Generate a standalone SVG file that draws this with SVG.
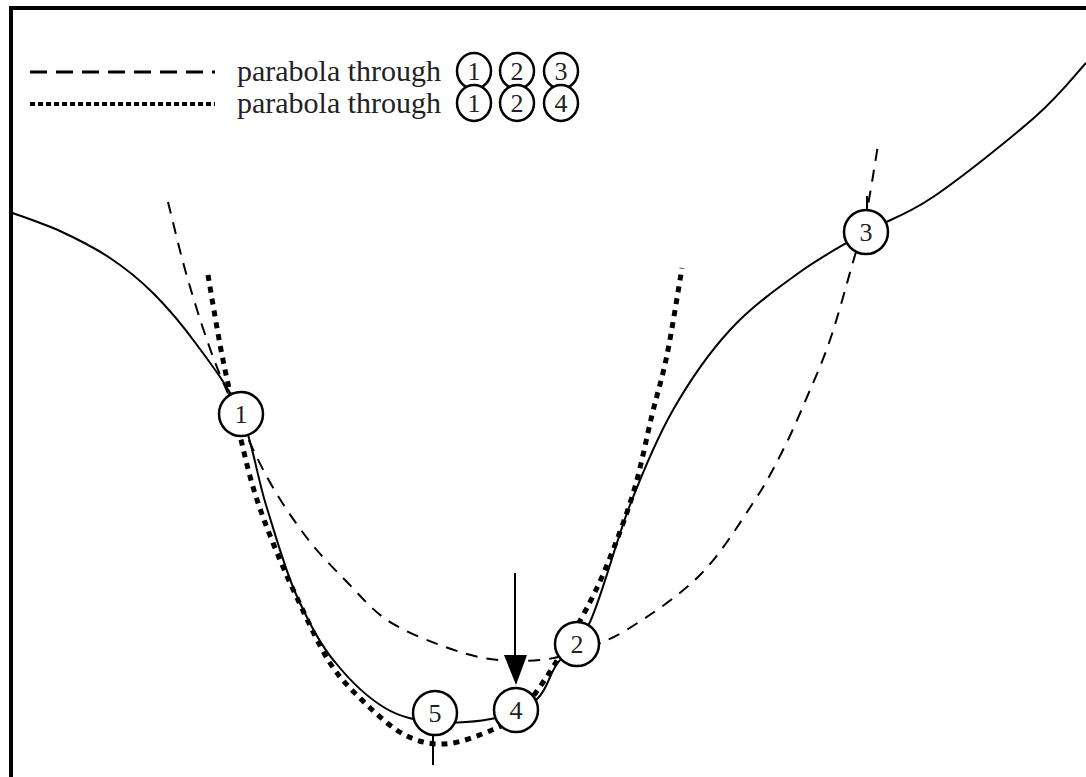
<svg xmlns="http://www.w3.org/2000/svg" width="1086" height="777" viewBox="0 0 1086 777">
<style>
.fn{fill:none;stroke:#000;stroke-width:2}
.dash{fill:none;stroke:#000;stroke-width:2;stroke-dasharray:12 9}
.dot{fill:none;stroke:#000;stroke-width:5;stroke-dasharray:6 6}
.pt{fill:#fff;stroke:#000;stroke-width:2.5}
.num{font-family:"Liberation Serif","Times New Roman",serif;font-size:26px;fill:#222;text-anchor:middle}
.lg{font-family:"Liberation Serif","Times New Roman",serif;font-size:30px;fill:#222}
.tick{stroke:#000;stroke-width:2}
</style>
<rect width="1086" height="777" fill="#fff"/>
<g id="frame">
<line x1="11" y1="8" x2="1086" y2="8" stroke="#000" stroke-width="4"/>
<line x1="11" y1="6" x2="11" y2="777" stroke="#000" stroke-width="4"/>
</g>
<g id="legend">
<line x1="30" y1="72" x2="215" y2="72" stroke="#000" stroke-width="3" stroke-dasharray="17 9"/>
<text class="lg" x="237" y="81">parabola through</text>
<ellipse class="pt" cx="474" cy="71" rx="17" ry="18"/><text class="num" x="474" y="80">1</text>
<ellipse class="pt" cx="517" cy="71" rx="17" ry="18"/><text class="num" x="517" y="80">2</text>
<ellipse class="pt" cx="561" cy="71" rx="17" ry="18"/><text class="num" x="561" y="80">3</text>
<line x1="30" y1="104" x2="215" y2="104" stroke="#000" stroke-width="4" stroke-dasharray="5 3"/>
<text class="lg" x="237" y="113">parabola through</text>
<ellipse class="pt" cx="474" cy="103" rx="17" ry="18"/><text class="num" x="474" y="112">1</text>
<ellipse class="pt" cx="517" cy="103" rx="17" ry="18"/><text class="num" x="517" y="112">2</text>
<ellipse class="pt" cx="561" cy="103" rx="17" ry="18"/><text class="num" x="561" y="112">4</text>
</g>
<g id="connectors">
<path id="function" class="fn" d="M10,212 C18.3,215.2 43.3,223.3 60,231 C76.7,238.7 94.5,247.7 110,258 C125.5,268.3 138.5,278.5 153,293 C167.5,307.5 182.3,324.8 197,345 C211.7,365.2 228.8,386.5 241,414 C252,440 257,476 266,505 C276,537 284,566 295,592 C307,619 320,645 335,662 C351,682 369.2,698.5 385,708 C400.8,717.5 416.5,720.3 435,722 C453.5,723.7 479,721.8 496,718 C513,714.2 526.8,708 537,699 C547.2,690 548.2,676.8 557,664 C565.8,651.2 577.8,648.5 590,622 C602.2,595.5 616.2,540.3 630,505 C643.8,469.7 656.3,439.2 673,410 C689.7,380.8 708.8,353 730,330 C751.2,307 777.3,288.3 800,272 C822.7,255.7 843.8,244.5 866,232 C888.2,219.5 904.8,216.2 933,197 C961.2,177.8 1009.5,139.3 1035,117 C1060.5,94.7 1077.5,72 1086,63"/>
<path id="parabola123" class="dash" d="M168,202 C171,213.8 179.3,249.5 186,273 C192.7,296.5 200.7,322.2 208,343 C215.3,363.8 220.2,375.7 230,398 C239.8,420.3 254.2,453.7 267,477 C279.8,500.3 293.7,520.5 307,538 C320.3,555.5 333.7,568.3 347,582 C360.3,595.7 371.5,609.5 387,620 C402.5,630.5 422.8,638.5 440,645 C457.2,651.5 473.3,656.5 490,659 C506.7,661.5 525.5,661.3 540,660 C554.5,658.7 562.3,656.2 577,651 C591.7,645.8 607.5,641.7 628,629 C648.5,616.3 679.2,596 700,575 C720.8,554 739.2,523.8 753,503 C766.8,482.2 774,467.7 783,450 C792,432.3 799.2,415.3 807,397 C814.8,378.7 822.3,362.5 830,340 C837.7,317.5 847,282.8 853,262 C859,241.2 861.8,234.5 866,215 C870.2,195.5 876,156.7 878,145"/>
<path id="parabola124" class="dot" d="M208,275 C210.3,288.3 217.3,331.2 222,355 C226.7,378.8 230.8,396 236,418 C241.2,440 246.8,466.2 253,487 C259.2,507.8 265.5,524.2 273,543 C280.5,561.8 288.5,580 298,600 C307.5,620 318.8,645.8 330,663 C341.2,680.2 352.5,691 365,703 C377.5,715 391.7,728.2 405,735 C418.3,741.8 430.5,744.8 445,744 C459.5,743.2 479.5,735.3 492,730 C504.5,724.7 509.8,722.5 520,712 C530.2,701.5 541.3,685.3 553,667 C564.7,648.7 580,621.5 590,602 C600,582.5 605.5,569.2 613,550 C620.5,530.8 628.5,509.5 635,487 C641.5,464.5 646.7,437 652,415 C657.3,393 662,379.5 667,355 C672,330.5 679.5,282.5 682,268"/>
<line class="tick" x1="515" y1="573" x2="515" y2="662"/>
<polygon points="504,655 527,655 516,685" fill="#000"/>
<line class="tick" x1="867" y1="196" x2="867" y2="212"/>
<line class="tick" x1="433" y1="734" x2="433" y2="765"/>
</g>
<g id="node1"><circle class="pt" cx="241" cy="414" r="22"/><text class="num" x="241" y="423">1</text></g>
<g id="node2"><circle class="pt" cx="577" cy="644" r="22"/><text class="num" x="577" y="653">2</text></g>
<g id="node3"><circle class="pt" cx="866" cy="232" r="22"/><text class="num" x="866" y="241">3</text></g>
<g id="node4"><circle class="pt" cx="516" cy="710" r="22"/><text class="num" x="516" y="719">4</text></g>
<g id="node5"><circle class="pt" cx="435" cy="713" r="22"/><text class="num" x="435" y="722">5</text></g>
</svg>
